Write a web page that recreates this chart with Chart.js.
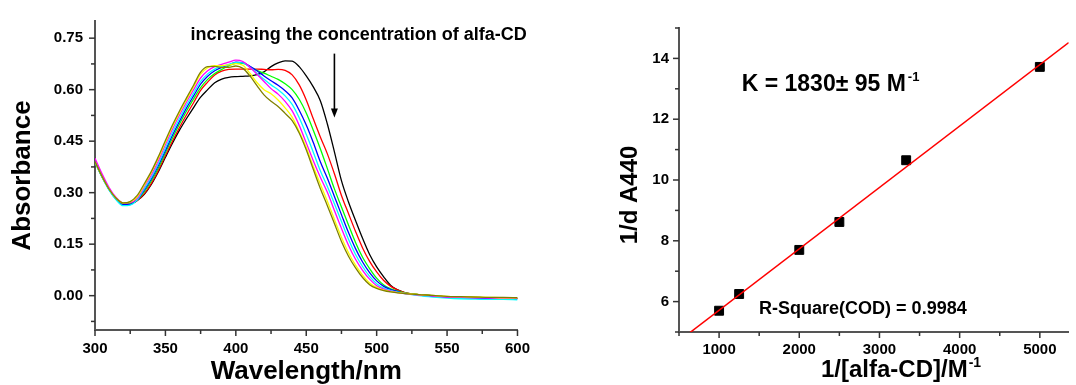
<!DOCTYPE html>
<html>
<head>
<meta charset="utf-8">
<title>alfa-CD titration</title>
<script src="https://cdn.jsdelivr.net/npm/chart.js@4.4.1/dist/chart.umd.min.js"></script>
<style>
  html, body { margin: 0; padding: 0; background: #fff; }
  #wrap { position: relative; width: 1076px; height: 385px; overflow: hidden; background: #fff; }
  #spectra { position: absolute; left: 0; top: 0; }
  #fit { position: absolute; left: 560px; top: 0; }
</style>
</head>
<body>
<div id="wrap">
  <canvas id="spectra" width="540" height="385"></canvas>
  <canvas id="fit" width="516" height="385"></canvas>
</div>
<script>
const FONT = "'Liberation Sans', Arial, sans-serif";
const AXIS_COLOR = "#555";

// --- left panel: absorption spectra ---
const wavelengths = [300, 305, 310, 315, 320, 325, 330, 335, 340, 345, 350, 355, 360, 365, 370, 375, 380, 385, 390, 395,
  400, 405, 410, 415, 420, 425, 430, 435, 440, 445, 450, 455, 460, 465, 470, 475, 480, 485, 490, 495,
  500, 505, 510, 515, 520, 530, 540, 550, 560, 570, 580, 590, 600];

const absBlack = [0.390, 0.347, 0.310, 0.283, 0.268, 0.268, 0.277, 0.295, 0.324, 0.361, 0.403, 0.444, 0.482, 0.516, 0.548, 0.578, 0.600, 0.620, 0.631, 0.636,
  0.638, 0.639, 0.640, 0.644, 0.652, 0.667, 0.678, 0.684, 0.683, 0.667, 0.640, 0.608, 0.568, 0.500, 0.419, 0.335, 0.273, 0.219, 0.167, 0.120,
  0.084, 0.055, 0.030, 0.017, 0.009, 0.003, 0.000, -0.003, -0.004, -0.005, -0.006, -0.007, -0.008];
const absRed = [0.390, 0.347, 0.310, 0.283, 0.268, 0.268, 0.277, 0.297, 0.327, 0.365, 0.408, 0.450, 0.490, 0.527, 0.562, 0.598, 0.622, 0.643, 0.654, 0.659,
  0.660, 0.660, 0.660, 0.660, 0.659, 0.658, 0.659, 0.656, 0.643, 0.614, 0.570, 0.515, 0.462, 0.413, 0.355, 0.292, 0.239, 0.187, 0.139, 0.100,
  0.069, 0.044, 0.027, 0.016, 0.009, 0.003, 0.000, -0.003, -0.004, -0.005, -0.006, -0.007, -0.008];
const absGreen = [0.390, 0.347, 0.310, 0.282, 0.267, 0.268, 0.279, 0.303, 0.334, 0.372, 0.416, 0.459, 0.500, 0.538, 0.573, 0.606, 0.630, 0.647, 0.659, 0.669,
  0.677, 0.677, 0.667, 0.656, 0.648, 0.639, 0.630, 0.617, 0.600, 0.572, 0.532, 0.482, 0.428, 0.370, 0.311, 0.258, 0.206, 0.155, 0.112, 0.079,
  0.051, 0.031, 0.020, 0.013, 0.008, 0.003, 0.000, -0.003, -0.004, -0.005, -0.006, -0.007, -0.008];
const absBlue = [0.390, 0.347, 0.309, 0.281, 0.265, 0.266, 0.279, 0.308, 0.340, 0.379, 0.423, 0.467, 0.508, 0.547, 0.582, 0.616, 0.639, 0.655, 0.665, 0.672,
  0.680, 0.679, 0.668, 0.655, 0.640, 0.626, 0.613, 0.597, 0.576, 0.540, 0.497, 0.446, 0.390, 0.342, 0.289, 0.236, 0.184, 0.137, 0.098, 0.067,
  0.043, 0.027, 0.018, 0.012, 0.007, 0.002, -0.002, -0.005, -0.006, -0.007, -0.008, -0.009, -0.010];
const absCyan = [0.388, 0.345, 0.307, 0.279, 0.262, 0.264, 0.279, 0.312, 0.345, 0.385, 0.430, 0.475, 0.516, 0.555, 0.590, 0.624, 0.646, 0.660, 0.668, 0.674,
  0.679, 0.678, 0.665, 0.648, 0.630, 0.614, 0.600, 0.582, 0.557, 0.518, 0.470, 0.418, 0.364, 0.318, 0.268, 0.216, 0.164, 0.120, 0.085, 0.056,
  0.035, 0.022, 0.015, 0.010, 0.006, 0.000, -0.004, -0.007, -0.009, -0.010, -0.011, -0.011, -0.012];
const absMagenta = [0.400, 0.355, 0.315, 0.286, 0.270, 0.271, 0.284, 0.318, 0.352, 0.393, 0.440, 0.485, 0.526, 0.564, 0.600, 0.634, 0.655, 0.667, 0.674, 0.680,
  0.686, 0.682, 0.665, 0.645, 0.624, 0.603, 0.587, 0.566, 0.538, 0.496, 0.445, 0.393, 0.345, 0.301, 0.248, 0.196, 0.147, 0.106, 0.074, 0.048,
  0.029, 0.019, 0.013, 0.009, 0.006, 0.002, -0.001, -0.004, -0.005, -0.006, -0.007, -0.008, -0.008];
const absYellow = [0.390, 0.347, 0.310, 0.284, 0.270, 0.273, 0.288, 0.322, 0.358, 0.400, 0.447, 0.492, 0.533, 0.571, 0.608, 0.645, 0.664, 0.670, 0.670, 0.672,
  0.676, 0.671, 0.648, 0.621, 0.600, 0.588, 0.570, 0.547, 0.520, 0.478, 0.432, 0.376, 0.325, 0.275, 0.222, 0.170, 0.125, 0.089, 0.060, 0.037,
  0.024, 0.016, 0.012, 0.009, 0.007, 0.003, 0.001, -0.002, -0.003, -0.004, -0.005, -0.006, -0.006];
const absOlive = [0.390, 0.347, 0.310, 0.284, 0.270, 0.274, 0.292, 0.326, 0.362, 0.405, 0.452, 0.497, 0.538, 0.576, 0.613, 0.651, 0.667, 0.668, 0.665, 0.665,
  0.669, 0.662, 0.640, 0.612, 0.585, 0.566, 0.551, 0.531, 0.510, 0.474, 0.425, 0.368, 0.312, 0.262, 0.210, 0.158, 0.115, 0.081, 0.053, 0.032,
  0.021, 0.015, 0.011, 0.008, 0.006, 0.003, 0.001, -0.002, -0.003, -0.004, -0.005, -0.005, -0.006];

const spectra = [absBlack, absRed, absGreen, absBlue, absCyan, absMagenta, absYellow, absOlive];
const seriesColors = ["#000000", "#ff0000", "#00ff00", "#0000ff", "#00ffff", "#ff00ff", "#ffff00", "#808000"];

const specXTicks = [300, 325, 350, 375, 400, 425, 450, 475, 500, 525, 550, 575, 600];
const specXLabels = [300, 350, 400, 450, 500, 550, 600];
const specYTicks = [-0.075, 0, 0.075, 0.15, 0.225, 0.3, 0.375, 0.45, 0.525, 0.6, 0.675, 0.75];
const specYLabels = [0, 0.15, 0.3, 0.45, 0.6, 0.75];

// --- right panel: double reciprocal plot ---
const invConc = [1000, 1250, 2000, 2500, 3333, 5000];
const invDeltaA = [5.70, 6.25, 7.70, 8.62, 10.65, 13.72];

const fitXTicks = [500, 1000, 1500, 2000, 2500, 3000, 3500, 4000, 4500, 5000];
const fitXLabels = [1000, 2000, 3000, 4000, 5000];
const fitYTicks = [5, 6, 7, 8, 9, 10, 11, 12, 13, 14, 15];
const fitYLabels = [6, 8, 10, 12, 14];

const isLabel = (v, labels) => labels.some(l => Math.abs(l - v) < 1e-6);

// least squares line through the points
const n = invConc.length;
const meanX = invConc.reduce((a, b) => a + b, 0) / n;
const meanY = invDeltaA.reduce((a, b) => a + b, 0) / n;
let sxy = 0, sxx = 0;
invConc.forEach((x, i) => { sxy += (x - meanX) * (invDeltaA[i] - meanY); sxx += (x - meanX) * (x - meanX); });
const slope = sxy / sxx;
const intercept = meanY - slope * meanX;
const fitRange = [500, 5360];
const fitLine = fitRange.map(x => ({ x: x, y: intercept + slope * x }));

// Tick marks drawn outward, long for labelled ticks, short for the rest
const tickMarks = {
    id: "tickMarks",
    afterDraw(chart, args, opts) {
        const ctx = chart.ctx;
        ctx.save();
        ctx.strokeStyle = opts.color;
        ctx.lineWidth = opts.width;
        ["x", "y"].forEach(id => {
            const scale = chart.scales[id];
            const cfg = opts[id];
            cfg.ticks.forEach(v => {
                const len = isLabel(v, cfg.labels) ? opts.major : opts.minor;
                const p = scale.getPixelForValue(v);
                ctx.beginPath();
                if (scale.isHorizontal()) {
                    ctx.moveTo(p, scale.top);
                    ctx.lineTo(p, scale.top + len);
                } else {
                    ctx.moveTo(scale.right, p);
                    ctx.lineTo(scale.right - len, p);
                }
                ctx.stroke();
            });
        });
        ctx.restore();
    }
};

// Free text (with optional superscript) and arrows
const notes = {
    id: "notes",
    afterDraw(chart, args, opts) {
        const { ctx, scales } = chart;
        ctx.save();
        ctx.fillStyle = "#000";
        ctx.strokeStyle = "#000";
        (opts.items || []).forEach(it => {
            const px = it.canvas ? it.x : scales.x.getPixelForValue(it.x);
            if (it.arrow) {
                const y1 = scales.y.getPixelForValue(it.y);
                const y2 = scales.y.getPixelForValue(it.y2);
                ctx.lineWidth = 1.6;
                ctx.beginPath();
                ctx.moveTo(px, y1);
                ctx.lineTo(px, y2 - 8);
                ctx.stroke();
                ctx.beginPath();
                ctx.moveTo(px - 3.5, y2 - 9);
                ctx.lineTo(px + 3.5, y2 - 9);
                ctx.lineTo(px, y2);
                ctx.closePath();
                ctx.fill();
                return;
            }
            const py = it.canvas ? it.y : scales.y.getPixelForValue(it.y);
            ctx.save();
            ctx.translate(px, py);
            if (it.rotate) ctx.rotate(-Math.PI / 2);
            ctx.textBaseline = "alphabetic";
            ctx.textAlign = "left";
            ctx.font = "bold " + it.size + "px " + FONT;
            const w = ctx.measureText(it.text).width;
            let supW = 0;
            if (it.sup) {
                ctx.font = "bold " + it.supSize + "px " + FONT;
                supW = ctx.measureText(it.sup).width + it.supGap;
            }
            const start = it.align === "center" ? -(w + supW) / 2 : 0;
            ctx.font = "bold " + it.size + "px " + FONT;
            ctx.fillText(it.text, start, 0);
            if (it.sup) {
                ctx.font = "bold " + it.supSize + "px " + FONT;
                ctx.fillText(it.sup, start + w + it.supGap, -it.supRise);
            }
            ctx.restore();
        });
        ctx.restore();
    }
};

const tickFont = { family: FONT, size: 15, weight: "bold" };

new Chart(document.getElementById("spectra"), {
    type: "line",
    data: {
        datasets: spectra.map((vals, i) => ({
            data: wavelengths.map((w, j) => ({ x: w, y: vals[j] })),
            borderColor: seriesColors[i],
            borderWidth: 1.3,
            pointRadius: 0,
            fill: false,
            cubicInterpolationMode: "monotone",
            order: spectra.length - 1 - i
        }))
    },
    options: {
        responsive: false,
        animation: false,
        layout: { padding: { left: 0, right: 21, top: 14, bottom: 0 } },
        plugins: {
            legend: { display: false },
            tooltip: { enabled: false },
            tickMarks: {
                color: "#333", width: 1.5, major: 6, minor: 4,
                x: { ticks: specXTicks, labels: specXLabels },
                y: { ticks: specYTicks, labels: specYLabels }
            },
            notes: {
                items: [
                    { x: 367.9, y: 0.7457, text: "increasing the concentration of alfa-CD", size: 18 },
                    { arrow: true, x: 470, y: 0.705, y2: 0.519 }
                ]
            }
        },
        scales: {
            x: {
                type: "linear", min: 300, max: 600,
                afterBuildTicks: s => { s.ticks = specXTicks.map(v => ({ value: v })); },
                afterFit: s => { s.height = 55; },
                grid: { display: false, drawTicks: false },
                border: { display: true, color: AXIS_COLOR, width: 2 },
                ticks: {
                    padding: 10, color: "#000", font: tickFont, maxRotation: 0, autoSkip: false,
                    callback: v => isLabel(v, specXLabels) ? String(v) : ""
                },
                title: {
                    display: true, text: "Wavelength/nm", color: "#000",
                    font: { family: FONT, size: 26, weight: "bold", lineHeight: 1 },
                    padding: { top: 0, bottom: 0 }
                }
            },
            y: {
                type: "linear", min: -0.1, max: 0.8,
                afterBuildTicks: s => { s.ticks = specYTicks.map(v => ({ value: v })); },
                afterFit: s => { s.width = 95; },
                grid: { display: false, drawTicks: false },
                border: { display: true, color: AXIS_COLOR, width: 2 },
                ticks: {
                    padding: 12, color: "#000", font: tickFont, autoSkip: false,
                    callback: v => isLabel(v, specYLabels) ? v.toFixed(2) : ""
                },
                title: {
                    display: true, text: "Absorbance", color: "#000",
                    font: { family: FONT, size: 26, weight: "bold", lineHeight: 1 },
                    padding: { top: 10, bottom: 0 }
                }
            }
        }
    },
    plugins: [tickMarks, notes]
});

new Chart(document.getElementById("fit"), {
    type: "scatter",
    data: {
        datasets: [
            {
                data: fitLine,
                showLine: true,
                borderColor: "#ff0000",
                borderWidth: 1.5,
                pointRadius: 0,
                order: 0
            },
            {
                data: invConc.map((x, i) => ({ x: x, y: invDeltaA[i] })),
                pointStyle: "rect",
                pointRadius: 6.3,
                backgroundColor: "#000",
                borderColor: "#000",
                borderWidth: 1,
                order: 1
            }
        ]
    },
    options: {
        responsive: false,
        animation: false,
        layout: { padding: { left: 0, right: 0, top: 28, bottom: 0 } },
        plugins: {
            legend: { display: false },
            tooltip: { enabled: false },
            tickMarks: {
                color: "#333", width: 1.5, major: 6, minor: 4,
                x: { ticks: fitXTicks, labels: fitXLabels },
                y: { ticks: fitYTicks, labels: fitYLabels }
            },
            notes: {
                items: [
                    { x: 1282, y: 12.93, text: "K = 1830\u00b1 95 M", size: 23, sup: "-1", supSize: 13, supGap: 2, supRise: 10 },
                    { x: 1499, y: 5.605, text: "R-Square(COD) = 0.9984", size: 18 },
                    { canvas: true, x: 261, y: 377, text: "1/[alfa-CD]/M", size: 24, sup: "-1", supSize: 14, supGap: 1, supRise: 10 },
                    { canvas: true, x: 77, y: 195, text: "1/d A440", size: 24, rotate: true, align: "center" }
                ]
            }
        },
        scales: {
            x: {
                type: "linear", min: 500, max: 5360,
                afterBuildTicks: s => { s.ticks = fitXTicks.map(v => ({ value: v })); },
                afterFit: s => { s.height = 53; },
                grid: { display: false, drawTicks: false },
                border: { display: true, color: AXIS_COLOR, width: 2 },
                ticks: {
                    padding: 9, color: "#000", font: tickFont, maxRotation: 0, autoSkip: false,
                    callback: v => isLabel(v, fitXLabels) ? String(v) : ""
                }
            },
            y: {
                type: "linear", min: 5, max: 15,
                afterBuildTicks: s => { s.ticks = fitYTicks.map(v => ({ value: v })); },
                afterFit: s => { s.width = 119; },
                grid: { display: false, drawTicks: false },
                border: { display: true, color: AXIS_COLOR, width: 2 },
                ticks: {
                    padding: 10, color: "#000", font: tickFont, autoSkip: false,
                    callback: v => isLabel(v, fitYLabels) ? String(v) : ""
                }
            }
        }
    },
    plugins: [tickMarks, notes]
});
</script>
</body>
</html>
